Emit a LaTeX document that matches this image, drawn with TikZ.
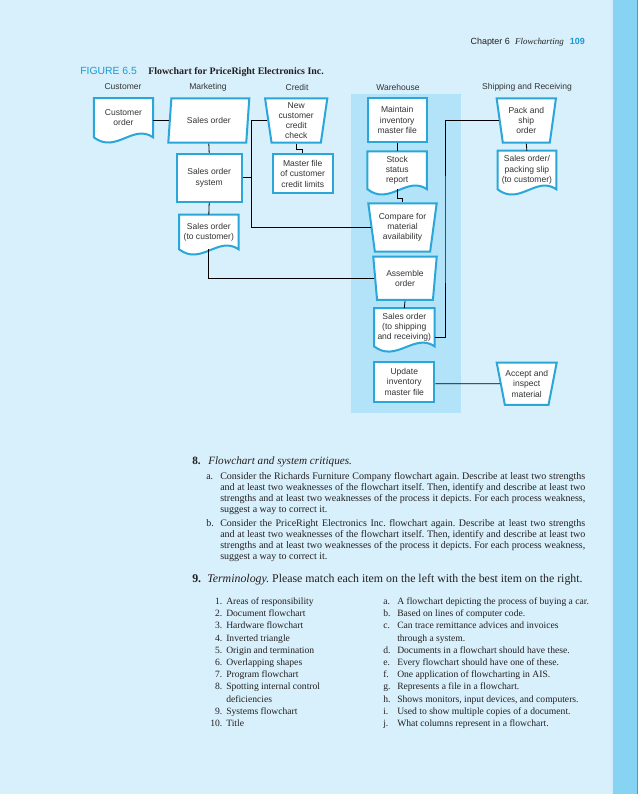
\documentclass[tikz,border=0pt]{standalone}
\usepackage{fontspec}
\setmainfont{Liberation Serif}
\setsansfont{Liberation Sans}
\usetikzlibrary{positioning, shapes.geometric, backgrounds}
\definecolor{pagebg}{HTML}{D8F0FB}
\definecolor{laneblue}{HTML}{B2E3F8}
\definecolor{edgeblue}{HTML}{2BA6D9}
\definecolor{figblue}{HTML}{1C98D4}
\definecolor{stripblue}{HTML}{86D3F3}
\definecolor{stripedge}{HTML}{5E98AA}
\definecolor{boxtext}{HTML}{333333}
\definecolor{bodytext}{HTML}{231F20}
\tikzset{shapetext/.style={font=\sffamily\fontsize{6.4}{7.7}\selectfont, text=boxtext, align=center, inner sep=0pt}}
\tikzset{procbox/.style={shapetext, rectangle, draw=edgeblue, line width=1.5pt, fill=white}}
\tikzset{manualbox/.style={shapetext, trapezium, shape border rotate=180, trapezium angle=77, trapezium stretches body, draw=edgeblue, line width=1.5pt, fill=white}}
\tikzset{inputbox/.style={shapetext, trapezium, trapezium left angle=64, trapezium right angle=116, trapezium stretches body, draw=edgeblue, line width=1.5pt, fill=white}}
\tikzset{docbox/.style={shapetext, rectangle}}
\tikzset{docline/.style={draw=edgeblue, line width=1.5pt, fill=white}}
\tikzset{flowline/.style={draw, line width=0.6pt}}
\tikzset{colhead/.style={font=\sffamily\fontsize{6.4}{7.7}\selectfont, text=boxtext}}
\tikzset{bodyfont/.style={font=\fontsize{7.5}{8.4}\selectfont, text=bodytext, inner sep=0pt}}
\tikzset{qhead/.style={font=\fontsize{8.4}{9.6}\selectfont, text=bodytext, inner sep=0pt}}
\newcommand{\docoutline}[1]{\draw[docline] (#1.south west) -- (#1.north west) -- (#1.north east) -- (#1.south east) .. controls +(-20,-14) and +(22,17) .. (#1.south west) -- cycle;}

\begin{document}
\frenchspacing
\begin{tikzpicture}[x=0.75pt, y=-0.75pt]
	\begin{scope}[on background layer]
		\fill[pagebg] (0,0) rectangle (638,794);
		\fill[stripblue] (611,0) rectangle (638,794);
		\fill[stripblue!40!white] (611,0) rectangle (612.5,794);
		\fill[stripedge] (636.5,0) rectangle (638,794);
		\fill[laneblue] (351,94) rectangle (460.7,412.7);
	\end{scope}
	
	\node[anchor=base east, font=\fontsize{6.7}{8}\selectfont, text=bodytext, inner sep=0pt] (pagehead) at (585,44.5) {{\sffamily Chapter 6}\hspace{4pt}{\itshape Flowcharting}\hspace{4.5pt}{\sffamily\bfseries\color{figblue}109}};
	\node[anchor=base west, font=\sffamily\fontsize{7.8}{9}\selectfont, text=figblue, inner sep=0pt] (figno) at (80,74) {FIGURE 6.5};
	\node[anchor=base west, font=\bfseries\fontsize{7.45}{9}\selectfont, text=bodytext, inner sep=0pt] (figtitle) at (148,74) {Flowchart for PriceRight Electronics Inc.};
	
	% swim lane titles
	\node[colhead] (hcust) at (123,87) {Customer};
	\node[colhead] (hmark) at (208,87) {Marketing};
	\node[colhead] (hcred) at (297,87) {Credit};
	\node[colhead] (hware) at (398,87) {Warehouse};
	\node[colhead] (hship) at (527,87) {Shipping and Receiving};
	
	% customer and marketing
	\node[docbox, minimum width=44pt, minimum height=29pt] (custorder) at (123.4,117.7) {Customer\\order};
	\node[inputbox, minimum width=60.75pt, minimum height=33.3pt] (salesin) at (208.8,120.5) {Sales order};
	\node[procbox, minimum width=48.75pt, minimum height=35.8pt] (sosys) at (209.2,177.8) {Sales order\\system};
	\node[docbox, minimum width=44.25pt, minimum height=25.5pt] (socust) at (208.8,232) {Sales order\\(to customer)};
	
	% credit
	\node[manualbox, trapezium angle=80, minimum width=46.7pt, minimum height=33.3pt] (newcc) at (296.2,120.5) {New\\customer\\credit\\check};
	\node[procbox, minimum width=45pt, minimum height=29.6pt] (mfile) at (302.7,173.7) {Master file\\of customer\\credit limits};
	
	% warehouse
	\node[procbox, minimum width=44.25pt, minimum height=32.6pt] (maint) at (397.2,120) {Maintain\\inventory\\master file};
	\node[docbox, minimum width=44.25pt, minimum height=28pt] (stock) at (397.2,170.3) {Stock\\status\\report};
	\node[manualbox, minimum width=51.3pt, minimum height=36.3pt] (compare) at (402.5,227.5) {Compare for\\material\\availability};
	\node[manualbox, minimum width=47.6pt, minimum height=32.5pt] (assemble) at (405,278.3) {Assemble\\order};
	\node[docbox, minimum width=45pt, minimum height=28.3pt] (soship) at (404.3,327.2) {Sales order\\(to shipping\\and receiving)};
	\node[procbox, minimum width=45pt, minimum height=30pt] (update) at (404.3,381.7) {Update\\inventory\\master file};
	
	% shipping and receiving
	\node[manualbox, minimum width=44.5pt, minimum height=33.3pt] (pack) at (526.3,120.5) {Pack and\\ship\\order};
	\node[docbox, minimum width=43.7pt, minimum height=28.5pt] (slip) at (526.9,170) {Sales order/\\packing slip\\(to customer)};
	\node[manualbox, trapezium angle=73, minimum width=45pt, minimum height=31.7pt] (accept) at (526.7,383.8) {Accept and\\inspect\\material};
	
	\begin{scope}[on background layer]
		\docoutline{custorder}
		\docoutline{socust}
		\docoutline{stock}
		\docoutline{soship}
		\docoutline{slip}
	\end{scope}
	
	\coordinate (spine) at (251.7,177.8);
	\coordinate (shipjoin) at (445,230);
	
	\draw[flowline] (custorder.east |- salesin) -- (salesin);
	\draw[flowline] (salesin.south) -- (sosys.north);
	\draw[flowline] (sosys.south) -- (socust.north);
	\draw[flowline] (sosys) -- (spine);
	\draw[flowline] (newcc) -| (spine) |- (compare);
	\draw[flowline] (newcc.south) -- ++(0,5.6) -| (mfile.north);
	\draw[flowline] (socust.south) |- (assemble);
	\draw[flowline] (maint.south) -- (stock.north);
	\draw[flowline] (stock.south) -- ++(0,9) -| (compare.north);
	\draw[flowline] (assemble.south) -- (soship.north);
	\draw[flowline] ([yshift=-8pt]soship.east) -| (shipjoin) |- (pack);
	\draw[flowline] (pack.south) -- (slip.north);
	\draw[flowline] (update.east |- accept) -- (accept);
	
	% questions
	\node[qhead, anchor=base west] (q8) at (192,464) {\makebox[12pt][l]{\bfseries 8.}\textit{Flowchart and system critiques.}};
	\node[bodyfont, anchor=base west] (q8a) at (206,479) {\begin{minipage}[t]{284.25pt}\fontsize{7.5}{8.4}\selectfont\tolerance=9999\noindent\hangindent=10.5pt\hangafter=1\makebox[10.5pt][l]{a.}Consider the Richards Furniture Company flowchart again. Describe at least two strengths\linebreak and at least two weaknesses of the flowchart itself. Then, identify and describe at least two\linebreak strengths and at least two weaknesses of the process it depicts. For each process weakness,\linebreak suggest a way to correct it.\end{minipage}};
	\node[bodyfont, anchor=base west] (q8b) at (206,526) {\begin{minipage}[t]{284.25pt}\fontsize{7.5}{8.4}\selectfont\tolerance=9999\noindent\hangindent=10.5pt\hangafter=1\makebox[10.5pt][l]{b.}Consider the PriceRight Electronics Inc. flowchart again. Describe at least two strengths\linebreak and at least two weaknesses of the flowchart itself. Then, identify and describe at least two\linebreak strengths and at least two weaknesses of the process it depicts. For each process weakness,\linebreak suggest a way to correct it.\end{minipage}};
	\node[qhead, font=\fontsize{8.9}{10}\selectfont, anchor=base west] (q9) at (192,582) {\makebox[11.3pt][l]{\bfseries 9.}\textit{Terminology.} Please match each item on the left with the best item on the right.};
	\node[bodyfont, anchor=base west] (terms) at (210,604.5) {\fontsize{7.2}{9.15}\selectfont\begin{tabular}[t]{@{}r@{\hspace{3pt}}l@{}}
		1. & Areas of responsibility\\
		2. & Document flowchart\\
		3. & Hardware flowchart\\
		4. & Inverted triangle\\
		5. & Origin and termination\\
		6. & Overlapping shapes\\
		7. & Program flowchart\\
		8. & Spotting internal control\\
		& deficiencies\\
		9. & Systems flowchart\\
		10. & Title
	\end{tabular}};
	\node[bodyfont, anchor=base west] (defs) at (383,604.5) {\fontsize{7.2}{9.15}\selectfont\begin{tabular}[t]{@{}p{10.5pt}@{}l@{}}
		a. & A flowchart depicting the process of buying a car.\\
		b. & Based on lines of computer code.\\
		c. & Can trace remittance advices and invoices\\
		& through a system.\\
		d. & Documents in a flowchart should have these.\\
		e. & Every flowchart should have one of these.\\
		f. & One application of flowcharting in AIS.\\
		g. & Represents a file in a flowchart.\\
		h. & Shows monitors, input devices, and computers.\\
		i. & Used to show multiple copies of a document.\\
		j. & What columns represent in a flowchart.
	\end{tabular}};
\end{tikzpicture}
\end{document}
